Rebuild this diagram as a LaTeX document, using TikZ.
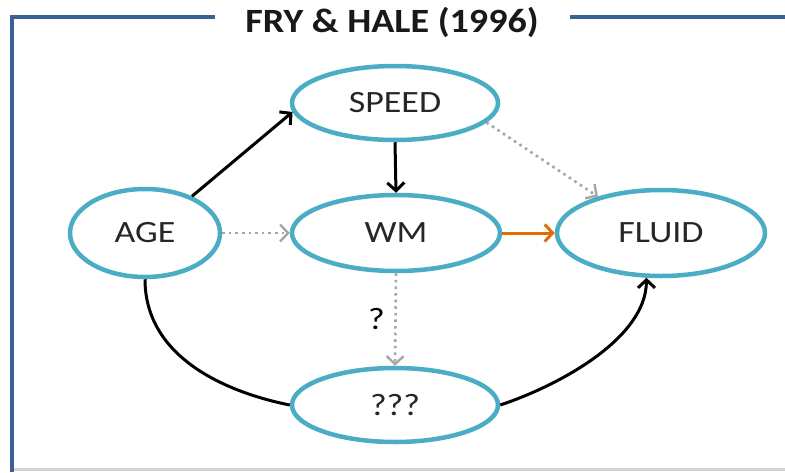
\documentclass[tikz,border=0pt]{standalone}
\usepackage{fontspec}
\setmainfont{Carlito}
\newfontfamily\nodefont[FakeStretch=1.16]{Carlito}
\newfontfamily\titlefont[FakeStretch=1.12]{Carlito}
\usetikzlibrary{arrows.meta,shapes.geometric}
\definecolor{frameblue}{HTML}{3C5F95}
\definecolor{ellblue}{HTML}{4BACC6}
\definecolor{orangeA}{HTML}{E36C09}
\definecolor{grayA}{HTML}{A6A6A6}
\definecolor{grayB}{HTML}{CDD3D9}
\tikzset{
  ell/.style={ellipse, draw=ellblue, line width=4.5pt, inner sep=0pt, font=\nodefont\fontsize{31}{36}\selectfont, text=black!85},
  solidarr/.style={line width=3pt, -{Straight Barb[length=8pt,width=17pt,line width=3pt]}},
  dotarr/.style={draw=grayA, line width=2.6pt, dash pattern=on 2.6pt off 4pt, -{Straight Barb[length=8pt,width=17pt,line width=2.4pt,sep=0pt]}}
}
\begin{document}
\begin{tikzpicture}[x=1pt,y=-1pt]
\useasboundingbox (0,0) rectangle (785,472);
% frame
\coordinate (tl) at (12,17);
\coordinate (bl) at (12,472);
\coordinate (tg1) at (215,17);
\coordinate (tg2) at (570,17);
\coordinate (tr) at (785,17);
\coordinate (b1) at (12,469.5);
\coordinate (b2) at (785,469.5);
\draw[grayB, line width=2.5pt] (b1) -- (b2);
\draw[frameblue, line width=4pt] (bl) -- (tl) -- (tg1);
\draw[frameblue, line width=4pt] (tg2) -- (tr);
\node[font=\titlefont\bfseries\fontsize{34}{38}\selectfont, text=black!90] (title) at (392,22) {FRY \& HALE (1996)};
% nodes
\node[ell, minimum width=206pt, minimum height=74pt] (speed) at (395,103) {SPEED};
\node[ell, minimum width=150pt, minimum height=88pt] (age) at (145,233) {AGE};
\node[ell, minimum width=208pt, minimum height=76pt] (wm) at (396,233) {WM};
\node[ell, minimum width=208pt, minimum height=86pt] (fluid) at (661,233) {FLUID};
\node[ell, minimum width=206pt, minimum height=74pt] (qq) at (395,405) {???};
% connectors
\draw[solidarr] (age.38) -- (speed.185);
\draw[solidarr] (speed.south) -- (wm.north);
\draw[dotarr] (speed.-12) -- (fluid.150);
\draw[dotarr] (age.east) -- (wm.west);
\draw[solidarr, orangeA] (wm.east) -- (fluid.west);
\draw[dotarr] (wm.south) -- node[left, xshift=-6pt, text=black, font=\nodefont\fontsize{31}{36}\selectfont, draw=none, solid] (qm) {?} (qq.north);
\draw[line width=3pt] (age.south) .. controls +(0,80) and +(-60,-12) .. (qq.west);
\draw[solidarr] (qq.east) .. controls +(60,-20) and +(0,60) .. (fluid.-108);
\end{tikzpicture}
\end{document}
